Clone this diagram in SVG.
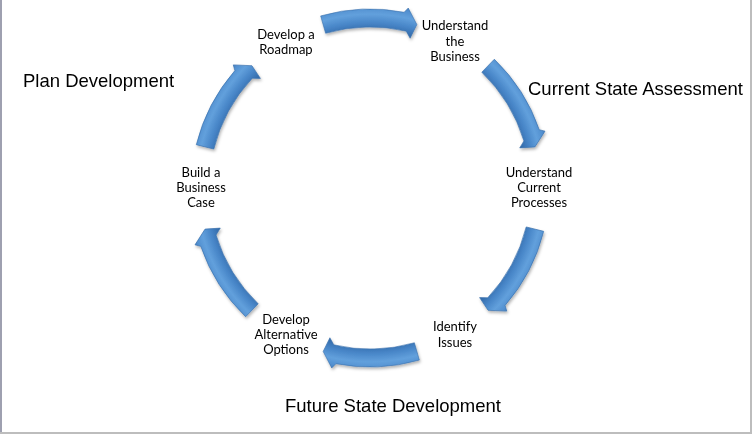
<svg xmlns="http://www.w3.org/2000/svg" xmlns:xlink="http://www.w3.org/1999/xlink" width="752" height="434" viewBox="0 0 752 434">
<style>
.node{font-family:Lato,"Open Sans","Liberation Sans",sans-serif;font-size:13px;fill:#000;text-anchor:middle}
.phase{font-family:"Liberation Sans",Arial,sans-serif;font-size:18.5px;fill:#000}
.arrow{fill:url(#blue);stroke:#3a70ad;stroke-width:0.6}
</style>
<defs>
<radialGradient id="blue" gradientUnits="userSpaceOnUse" cx="370" cy="188" r="190">
<stop offset="0.80" stop-color="#2b5e98"/>
<stop offset="0.835" stop-color="#3871b1"/>
<stop offset="0.87" stop-color="#4886c8"/>
<stop offset="0.915" stop-color="#62a0dc"/>
<stop offset="0.95" stop-color="#5290d0"/>
<stop offset="0.985" stop-color="#3c74b3"/>
</radialGradient>
<filter id="shadow" x="-10%" y="-10%" width="120%" height="120%">
<feDropShadow dx="1" dy="2" stdDeviation="1.5" flood-color="#000" flood-opacity="0.3"/>
</filter>
<path id="arc" d="M320.66,15.93 A179,179 0 0 1 404.15,12.29 L408.26,8.02 L416.86,24.59 L410.12,38.28 L406.22,31.13 A161,161 0 0 0 325.62,33.24 Z"/>
</defs>
<rect width="752" height="434" fill="#fff"/>
<rect x="0" y="0" width="2" height="434" fill="#9ea0b0"/>
<rect x="750" y="0" width="2" height="434" fill="#bdbdbd"/>
<rect x="0" y="432" width="752" height="2" fill="#bdbdbd"/>
<g id="connectors" filter="url(#shadow)">
<use xlink:href="#arc" class="arrow"/>
<use xlink:href="#arc" class="arrow" transform="rotate(60 370 188)"/>
<use xlink:href="#arc" class="arrow" transform="rotate(120 370 188)"/>
<use xlink:href="#arc" class="arrow" transform="rotate(180 370 188)"/>
<use xlink:href="#arc" class="arrow" transform="rotate(240 370 188)"/>
<use xlink:href="#arc" class="arrow" transform="rotate(300 370 188)"/>
</g>
<g id="roadmap"><text class="node" x="286" y="39">Develop a</text><text class="node" x="286" y="54">Roadmap</text></g>
<g id="business"><text class="node" x="455" y="30">Understand</text><text class="node" x="455" y="46">the</text><text class="node" x="455" y="61">Business</text></g>
<g id="processes"><text class="node" x="539" y="177">Understand</text><text class="node" x="539" y="192">Current</text><text class="node" x="539" y="207">Processes</text></g>
<g id="issues"><text class="node" x="455" y="331">Identify</text><text class="node" x="455" y="347">Issues</text></g>
<g id="options"><text class="node" x="286" y="324">Develop</text><text class="node" x="286" y="339">Alternative</text><text class="node" x="286" y="354">Options</text></g>
<g id="case"><text class="node" x="201" y="177">Build a</text><text class="node" x="201" y="192">Business</text><text class="node" x="201" y="207">Case</text></g>
<g id="phases">
<text class="phase" x="23" y="87">Plan Development</text>
<text class="phase" x="528" y="95">Current State Assessment</text>
<text class="phase" x="285" y="412">Future State Development</text>
</g>
</svg>
